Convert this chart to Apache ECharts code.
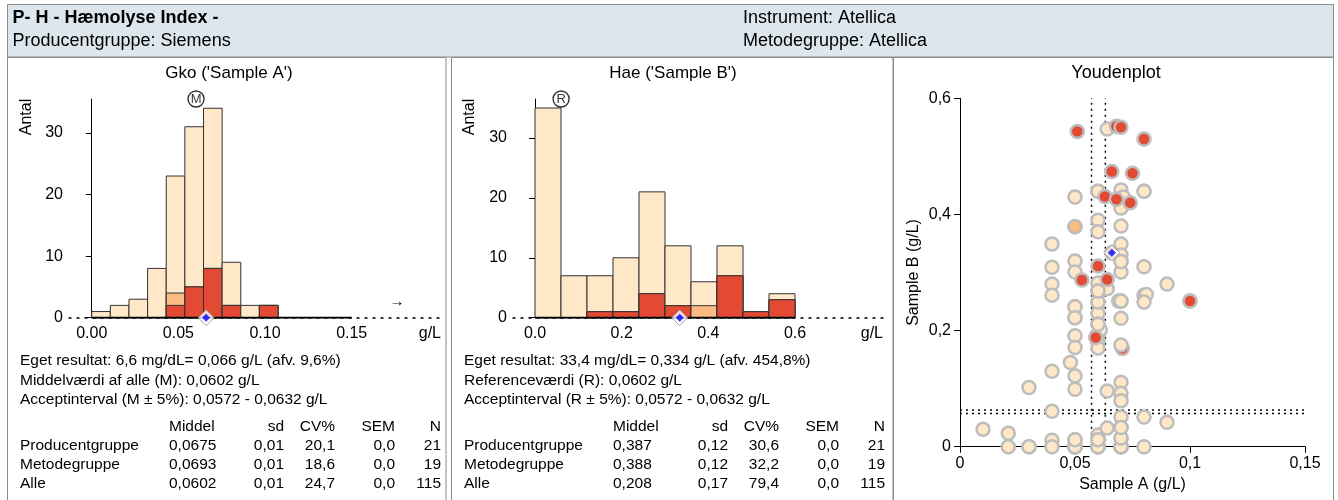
<!DOCTYPE html>
<html>
<head>
<meta charset="utf-8">
<script src="https://cdn.jsdelivr.net/npm/echarts@6/dist/echarts.min.js"></script>
<style>
  html, body { margin: 0; padding: 0; background: #fff; }
  #chart { width: 1338px; height: 500px; }
</style>
</head>
<body>
<div id="chart"></div>
<script>
// ---- Histogram data (g/L): bin edges, count of all labs, producer group (incl. method group), method group
const binEdgesA = [0, 0.01075, 0.0215, 0.03225, 0.043, 0.05375, 0.0645, 0.07525, 0.086, 0.09675, 0.1075];
const countsA   = [1, 2, 3, 8, 23, 31, 34, 9, 2, 2];
const producerA = [0, 0, 0, 0, 4, 5, 8, 2, 0, 2];
const methodA   = [0, 0, 0, 0, 2, 5, 8, 2, 0, 2];

const binEdgesB = [0, 0.06, 0.12, 0.18, 0.24, 0.30, 0.36, 0.42, 0.48, 0.54, 0.60];
const countsB   = [35, 7, 7, 10, 21, 12, 6, 12, 1, 4];
const producerB = [0, 0, 1, 1, 4, 2, 2, 7, 1, 3];
const methodB   = [0, 0, 1, 1, 4, 2, 0, 7, 1, 3];

// Own result, reference/mean value and acceptance interval (g/L)
const ownA = 0.066, ownB = 0.334;
const refValue = 0.0602;
const acceptLow = 0.0572, acceptHigh = 0.0632;

// Histogram axis tick labels
const ticksA = [0, 0.05, 0.10, 0.15];
const ticksB = [0, 0.2, 0.4, 0.6];

// ---- Youden plot points (Sample A, Sample B), in drawing order
// method-group results that end up beneath other markers
const metodeUnderA = [0.060, 0.080, 0.0706, 0.066, 0.100];
const metodeUnderB = [0.440, 0.440, 0.169, 0.334, 0.251];
// producer group (outside the method group)
const producentA = [0.050, 0.050];
const producentB = [0.379, 0.379];
// all other laboratories
const alleA = [
  0.010, 0.021, 0.021, 0.030, 0.030, 0.030,
  0.040, 0.040, 0.040, 0.040, 0.040, 0.040, 0.040, 0.040,
  0.048, 0.050, 0.050, 0.050, 0.050, 0.050, 0.050, 0.050, 0.050, 0.050, 0.050, 0.050,
  0.050, 0.050, 0.050, 0.050, 0.050, 0.050, 0.050,
  0.060, 0.060, 0.060, 0.060, 0.060, 0.060, 0.060, 0.060, 0.061, 0.060, 0.060, 0.060, 0.060, 0.060,
  0.064, 0.064, 0.064, 0.064, 0.060, 0.060, 0.060, 0.060, 0.060, 0.060, 0.060, 0.060,
  0.070, 0.071, 0.070, 0.070, 0.070, 0.070, 0.070, 0.070, 0.070, 0.069, 0.070, 0.070, 0.070, 0.070, 0.070, 0.070, 0.070, 0.070, 0.070,
  0.070, 0.070, 0.070, 0.070, 0.070, 0.070, 0.070,
  0.080, 0.080, 0.080, 0.081, 0.080, 0.080, 0.080, 0.090, 0.090
];
const alleB = [
  0.030, 0.023, 0.000, 0.102, 0.000, 0.000,
  0.349, 0.309, 0.280, 0.261, 0.130, 0.061, 0.011, 0.000,
  0.145, 0.430, 0.320, 0.301, 0.241, 0.222, 0.191, 0.171, 0.122, 0.099, 0.012, 0.000,
  0.000, 0.000, 0.000, 0.000, 0.012, 0.241, 0.222,
  0.440, 0.390, 0.370, 0.282, 0.268, 0.249, 0.230, 0.211, 0.201, 0.181, 0.170, 0.020, 0.012, 0.000,
  0.547, 0.272, 0.096, 0.032, 0.000, 0.000, 0.000, 0.000, 0.012, 0.249, 0.211, 0.268,
  0.442, 0.430, 0.411, 0.380, 0.349, 0.330, 0.319, 0.301, 0.251, 0.251, 0.221, 0.175, 0.111, 0.092, 0.079, 0.051, 0.033, 0.015, 0.000,
  0.000, 0.000, 0.000, 0.015, 0.033, 0.251, 0.319,
  0.440, 0.310, 0.261, 0.262, 0.249, 0.051, 0.000, 0.280, 0.042
];
// method group (drawn on top)
const metodeA = [0.051, 0.068, 0.070, 0.080, 0.066, 0.075, 0.063, 0.068, 0.074, 0.060, 0.053, 0.064, 0.100, 0.059];
const metodeB = [0.543, 0.552, 0.550, 0.530, 0.474, 0.471, 0.431, 0.426, 0.420, 0.311, 0.287, 0.288, 0.251, 0.188];

// ---- Texts
const headerTitle = 'P- H - Hæmolyse Index -';
const headerLeft = 'Producentgruppe: Siemens';
const headerRight1 = 'Instrument: Atellica';
const headerRight2 = 'Metodegruppe: Atellica';
const titleA = "Gko ('Sample A')";
const titleB = "Hae ('Sample B')";
const titleC = 'Youdenplot';
const infoA = [
  'Eget resultat: 6,6 mg/dL= 0,066 g/L (afv. 9,6%)',
  'Middelværdi af alle (M): 0,0602 g/L',
  'Acceptinterval (M ± 5%): 0,0572 - 0,0632 g/L'
];
const infoB = [
  'Eget resultat: 33,4 mg/dL= 0,334 g/L (afv. 454,8%)',
  'Referenceværdi (R): 0,0602 g/L',
  'Acceptinterval (R ± 5%): 0,0572 - 0,0632 g/L'
];
const statCols = ['Middel', 'sd', 'CV%', 'SEM', 'N'];
const statRows = ['Producentgruppe', 'Metodegruppe', 'Alle'];
const statsA = [
  ['0,0675', '0,01', '20,1', '0,0', '21'],
  ['0,0693', '0,01', '18,6', '0,0', '19'],
  ['0,0602', '0,01', '24,7', '0,0', '115']
];
const statsB = [
  ['0,387', '0,12', '30,6', '0,0', '21'],
  ['0,388', '0,12', '32,2', '0,0', '19'],
  ['0,208', '0,17', '79,4', '0,0', '115']
];

// ---- Styling
const FONT = "'Liberation Sans', Arial, sans-serif";
const C_ALL = '#fee8c8', C_PROD = '#fdbb84', C_METH = '#e34a33';
const BORDER = '#8c8c8c';

const chart = echarts.init(document.getElementById('chart'), null, { renderer: 'canvas', devicePixelRatio: 1 });

function histData(edges, counts, prod, meth) {
  return counts.map((c, i) => [edges[i], edges[i + 1], c, prod[i], meth[i]]);
}

function renderBins(params, api) {
  const x0 = api.value(0), x1 = api.value(1);
  const layers = [[api.value(2), C_ALL], [api.value(3), C_PROD], [api.value(4), C_METH]];
  const children = [];
  layers.forEach(([h, fill]) => {
    if (h <= 0) return;
    const a = api.coord([x0, h]);
    const b = api.coord([x1, 0]);
    children.push({
      type: 'rect',
      shape: { x: a[0], y: a[1], width: b[0] - a[0], height: b[1] - a[1] },
      style: { fill: fill, stroke: '#333', lineWidth: 1 }
    });
  });
  return { type: 'group', children: children };
}

const comma = v => String(+v.toFixed(3)).replace('.', ',');

function histXAxis(gridIndex, min, max, ticks, digits) {
  return {
    type: 'value', gridIndex: gridIndex, min: min, max: max,
    axisLine: { show: true, onZero: true, lineStyle: { color: '#000', width: 1.5, type: [2, 6] } },
    axisTick: { show: false },
    splitLine: { show: false },
    axisLabel: {
      customValues: ticks, margin: 8, color: '#000', fontSize: 16, fontFamily: FONT,
      formatter: v => v.toFixed(digits)
    }
  };
}
function histYAxis(gridIndex, max) {
  return {
    type: 'value', gridIndex: gridIndex, min: 0, max: max, interval: 10,
    axisLine: { show: true, lineStyle: { color: '#000', width: 1 } },
    axisTick: { show: true, length: 6, lineStyle: { color: '#000' } },
    splitLine: { show: false },
    axisLabel: { margin: 6, color: '#000', fontSize: 16, fontFamily: FONT, showMaxLabel: false }
  };
}

function diamondSeries(xi, yi, point) {
  return [
    { type: 'scatter', xAxisIndex: xi, yAxisIndex: yi, data: [point], symbol: 'diamond', symbolSize: 16,
      itemStyle: { color: '#fff', borderColor: '#8a8a8a', borderWidth: 1 }, z: 10, clip: false, silent: true },
    { type: 'scatter', xAxisIndex: xi, yAxisIndex: yi, data: [point], symbol: 'diamond', symbolSize: 8,
      itemStyle: { color: '#0000ff' }, z: 11, clip: false, silent: true }
  ];
}

function circledLetter(xi, yi, point, letter) {
  return {
    type: 'scatter', xAxisIndex: xi, yAxisIndex: yi, data: [point], symbol: 'circle', symbolSize: 16,
    itemStyle: { color: '#fff', borderColor: '#000', borderWidth: 1.4 }, clip: false, silent: true, z: 10,
    label: { show: true, position: 'inside', formatter: letter, color: '#000', fontSize: 13, fontFamily: FONT }
  };
}

function youdenLayer(xs, ys, color) {
  return {
    type: 'scatter', xAxisIndex: 2, yAxisIndex: 2, symbol: 'circle', symbolSize: 13, clip: false, silent: true,
    data: xs.map((x, i) => [x, ys[i]]),
    itemStyle: { color: color, borderColor: '#bdbdbd', borderWidth: 2.5, opacity: 1 },
    z: 4
  };
}

function dottedLine(points) {
  return {
    type: 'line', xAxisIndex: 2, yAxisIndex: 2, data: points, symbol: 'none', silent: true, z: 3,
    lineStyle: { color: '#000', width: 1.5, type: [2, 4] }
  };
}

// ---- Frames and texts
const graphics = [];
// header band
graphics.push({ type: 'rect', shape: { x: 7.5, y: 4.5, width: 1326, height: 52.5 },
  style: { fill: '#dce6ec', stroke: BORDER, lineWidth: 1 }, z: -10 });
// panels
[[7.5, 438.5], [451.5, 441.5], [893.5, 440]].forEach(([x, w]) => {
  graphics.push({ type: 'rect', shape: { x: x, y: 57.5, width: w, height: 460 },
    style: { fill: 'none', stroke: BORDER, lineWidth: 1 }, z: -10 });
});
function txt(text, x, y, opts) {
  return { type: 'text', x: x, y: y, z: 5, style: Object.assign({
    text: text, fill: '#000', fontFamily: FONT, fontSize: 15.5, align: 'left', verticalAlign: 'middle'
  }, opts || {}) };
}
graphics.push(txt(headerTitle, 12.5, 18, { fontSize: 18, fontWeight: 'bold' }));
graphics.push(txt(headerLeft, 12.5, 41, { fontSize: 18 }));
graphics.push(txt(headerRight1, 743, 18, { fontSize: 18 }));
graphics.push(txt(headerRight2, 743, 41, { fontSize: 18 }));
graphics.push(txt(titleA, 229, 73, { fontSize: 17, align: 'center' }));
graphics.push(txt(titleB, 673, 73, { fontSize: 17, align: 'center' }));
graphics.push(txt(titleC, 1116, 73, { fontSize: 18, align: 'center' }));
// histogram axis captions
graphics.push(Object.assign(txt('Antal', 27, 117, { fontSize: 16, align: 'center' }), { rotation: Math.PI / 2 }));
graphics.push(Object.assign(txt('Antal', 470, 117, { fontSize: 16, align: 'center' }), { rotation: Math.PI / 2 }));
graphics.push(txt('g/L', 441, 334, { fontSize: 16, align: 'right' }));
graphics.push(txt('g/L', 883, 334, { fontSize: 16, align: 'right' }));
graphics.push(txt('→', 397, 302, { fontSize: 15, align: 'center' }));

// statistics blocks
const infoY = [361, 381, 400];
const tableY = [427, 446, 465, 484];
const colOffset = [162, 277, 328, 388, 434];
const colAlign = ['left', 'right', 'right', 'right', 'right'];
[[7, infoA, statsA], [451, infoB, statsB]].forEach(([px, info, stats]) => {
  info.forEach((line, i) => graphics.push(txt(line, px + 13, infoY[i])));
  statCols.forEach((c, j) => graphics.push(txt(c, px + colOffset[j], tableY[0], { align: colAlign[j] })));
  statRows.forEach((r, i) => {
    graphics.push(txt(r, px + 13, tableY[i + 1]));
    stats[i].forEach((v, j) => graphics.push(txt(v, px + colOffset[j], tableY[i + 1], { align: colAlign[j] })));
  });
});

const option = {
  animation: false,
  backgroundColor: '#fff',
  textStyle: { fontFamily: FONT },
  grid: [
    { left: 69, top: 99, width: 373, height: 218.7, outerBoundsMode: 'none', containLabel: false },
    { left: 513, top: 99, width: 372, height: 218.7, outerBoundsMode: 'none', containLabel: false },
    { left: 960, top: 98.3, width: 345, height: 348.4, outerBoundsMode: 'none', containLabel: false }
  ],
  xAxis: [
    histXAxis(0, -0.0131, 0.2021, ticksA, 2),
    histXAxis(1, -0.0508, 0.8077, ticksB, 1),
    {
      type: 'value', gridIndex: 2, min: 0, max: 0.15, interval: 0.05,
      axisLine: { show: true, onZero: false, lineStyle: { color: '#000', width: 1 } },
      axisTick: { show: true, length: 6, lineStyle: { color: '#000' } },
      splitLine: { show: false },
      axisLabel: { margin: 9, color: '#000', fontSize: 16, fontFamily: FONT, formatter: comma },
      name: 'Sample A (g/L)', nameLocation: 'middle', nameGap: 30,
      nameTextStyle: { color: '#000', fontSize: 16, fontFamily: FONT }
    }
  ],
  yAxis: [
    histYAxis(0, 35.5),
    histYAxis(1, 36.5),
    {
      type: 'value', gridIndex: 2, min: 0, max: 0.6, interval: 0.2,
      axisLine: { show: true, onZero: false, lineStyle: { color: '#000', width: 1 } },
      axisTick: { show: true, length: 6, lineStyle: { color: '#000' } },
      splitLine: { show: false },
      axisLabel: { margin: 9, color: '#000', fontSize: 16, fontFamily: FONT, formatter: comma },
      name: 'Sample B (g/L)', nameLocation: 'middle', nameGap: 38,
      nameTextStyle: { color: '#000', fontSize: 16, fontFamily: FONT }
    }
  ],
  graphic: graphics,
  series: [
    // histograms
    { type: 'custom', xAxisIndex: 0, yAxisIndex: 0, renderItem: renderBins, silent: true, clip: false,
      encode: { x: [0, 1], y: 2 }, data: histData(binEdgesA, countsA, producerA, methodA), z: 2 },
    { type: 'custom', xAxisIndex: 1, yAxisIndex: 1, renderItem: renderBins, silent: true, clip: false,
      encode: { x: [0, 1], y: 2 }, data: histData(binEdgesB, countsB, producerB, methodB), z: 2 },
    // solid baseline over the histogram range
    { type: 'line', xAxisIndex: 0, yAxisIndex: 0, data: [[ticksA[0], 0], [ticksA[ticksA.length - 1], 0]],
      symbol: 'none', lineStyle: { color: '#000', width: 2 }, z: 3, silent: true },
    { type: 'line', xAxisIndex: 1, yAxisIndex: 1, data: [[ticksB[0], 0], [ticksB[ticksB.length - 1], 0]],
      symbol: 'none', lineStyle: { color: '#000', width: 2 }, z: 3, silent: true },
    circledLetter(0, 0, [refValue, 35.5], 'M'),
    circledLetter(1, 1, [refValue, 36.5], 'R'),
    ...diamondSeries(0, 0, [ownA, 0]),
    ...diamondSeries(1, 1, [ownB, 0]),
    // Youden plot
    dottedLine([[acceptLow, 0], [acceptLow, 0.6]]),
    dottedLine([[acceptHigh, 0], [acceptHigh, 0.6]]),
    dottedLine([[0, acceptLow], [0.15, acceptLow]]),
    dottedLine([[0, acceptHigh], [0.15, acceptHigh]]),
    youdenLayer(metodeUnderA, metodeUnderB, C_METH),
    youdenLayer(producentA, producentB, C_PROD),
    youdenLayer(alleA, alleB, C_ALL),
    youdenLayer(metodeA, metodeB, C_METH),
    ...diamondSeries(2, 2, [ownA, ownB])
  ]
};

chart.setOption(option);
</script>
</body>
</html>
